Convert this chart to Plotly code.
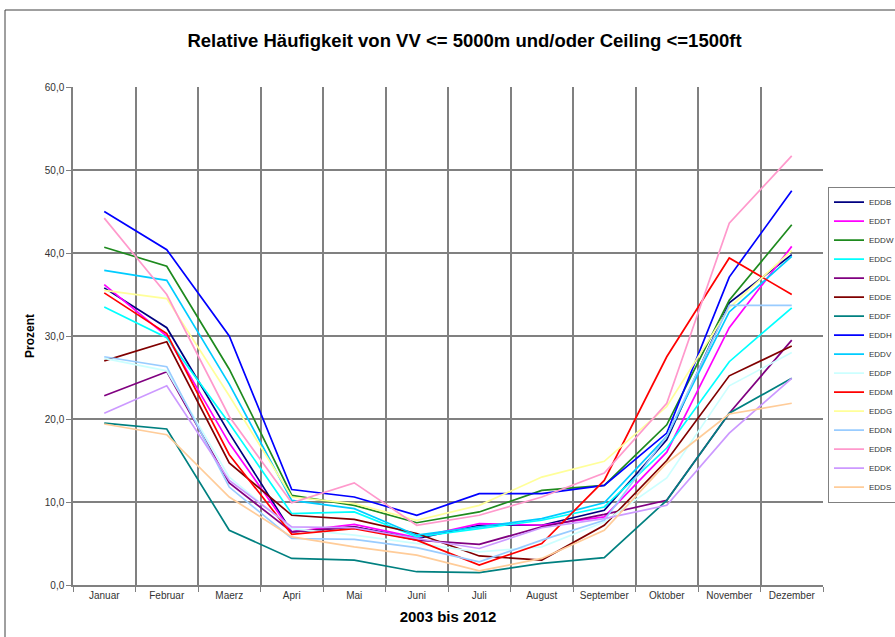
import plotly.graph_objects as go

months = ["Januar", "Februar", "Maerz", "Apri", "Mai", "Juni", "Juli", "August",
          "September", "Oktober", "November", "Dezember"]

EDDB = [35.8, 31.0, 18.3, 6.4, 7.0, 5.6, 7.2, 7.2, 9.0, 17.5, 34.0, 39.8]
EDDT = [36.2, 30.0, 17.1, 6.4, 7.3, 5.7, 7.4, 7.2, 8.2, 16.0, 31.0, 40.8]
EDDW = [40.7, 38.4, 26.0, 10.8, 9.6, 7.5, 8.8, 11.4, 12.0, 19.3, 34.3, 43.4]
EDDC = [33.5, 29.8, 19.5, 8.6, 8.8, 5.8, 6.8, 7.8, 9.4, 16.5, 26.9, 33.4]
EDDL = [22.8, 25.7, 12.3, 6.4, 7.0, 5.4, 4.9, 7.0, 8.5, 10.2, 20.7, 29.5]
EDDE = [27.0, 29.3, 14.7, 8.4, 7.9, 6.2, 3.5, 3.0, 7.2, 15.0, 25.2, 28.8]
EDDF = [19.5, 18.8, 6.6, 3.2, 3.0, 1.6, 1.5, 2.6, 3.3, 10.2, 20.7, 24.9]
EDDH = [45.0, 40.4, 30.0, 11.5, 10.6, 8.4, 11.0, 11.0, 12.0, 18.3, 37.1, 47.5]
EDDV = [37.9, 36.7, 24.2, 10.2, 9.2, 6.0, 7.0, 8.0, 9.9, 17.9, 32.9, 39.6]
EDDP = [27.3, 25.8, 13.0, 6.8, 6.0, 5.0, 4.0, 4.6, 7.6, 12.9, 24.0, 28.0]
EDDM = [35.2, 30.3, 15.7, 6.1, 6.8, 5.4, 2.4, 5.0, 12.6, 27.5, 39.4, 35.0]
EDDG = [35.5, 34.5, 22.8, 10.6, 9.8, 7.8, 9.6, 13.0, 14.9, 21.5, 33.4, 40.3]
EDDN = [27.5, 26.3, 11.8, 5.6, 5.5, 4.5, 2.8, 5.4, 7.8, 17.9, 33.7, 33.7]
EDDR = [44.2, 35.0, 20.3, 9.9, 12.3, 7.2, 8.4, 10.6, 13.5, 21.9, 43.6, 51.7]
EDDK = [20.7, 24.0, 12.6, 7.0, 6.9, 5.6, 4.4, 6.9, 8.0, 9.6, 18.3, 24.9]
EDDS = [19.4, 18.1, 10.6, 5.8, 4.6, 3.6, 1.7, 3.2, 6.6, 14.7, 20.6, 21.9]

series = [
    ("EDDB", EDDB, "#000080"),
    ("EDDT", EDDT, "#FF00FF"),
    ("EDDW", EDDW, "#1E8A1E"),
    ("EDDC", EDDC, "#00FFFF"),
    ("EDDL", EDDL, "#800080"),
    ("EDDE", EDDE, "#800000"),
    ("EDDF", EDDF, "#008080"),
    ("EDDH", EDDH, "#0000FF"),
    ("EDDV", EDDV, "#00CCFF"),
    ("EDDP", EDDP, "#CCFFFF"),
    ("EDDM", EDDM, "#FF0000"),
    ("EDDG", EDDG, "#FFFF99"),
    ("EDDN", EDDN, "#99CCFF"),
    ("EDDR", EDDR, "#FF99CC"),
    ("EDDK", EDDK, "#CC99FF"),
    ("EDDS", EDDS, "#FFCC99"),
]

fig = go.Figure()
for name, vals, col in series:
    fig.add_trace(go.Scatter(x=months, y=vals, name=name, mode="lines",
                             line=dict(color=col, width=1.7)))

font = "Liberation Sans, Arial, sans-serif"
fig.update_layout(
    width=895, height=637,
    margin=dict(l=73, r=72, t=87, b=52, autoexpand=False),
    paper_bgcolor="white", plot_bgcolor="white",
    separators=",.",
    font=dict(family=font, size=9, color="#000000"),
    title=dict(text="<b>Relative Häufigkeit von VV <= 5000m und/oder Ceiling <=1500ft</b>",
               x=0.519, xanchor="center", y=0.937, yanchor="middle",
               font=dict(size=18.5, family=font, color="#000000")),
    xaxis=dict(type="category", tickson="boundaries", showgrid=True, automargin=False,
               gridcolor="#808080", gridwidth=1.5, ticks="outside", ticklen=5,
               tickcolor="#808080", showline=True, linecolor="#808080", linewidth=1.5,
               tickfont=dict(size=10, color="#333333"),
               title=dict(text="<b>2003 bis 2012</b>", font=dict(size=15), standoff=12),
               range=[-0.5, 11.5]),
    yaxis=dict(range=[0, 60], dtick=10, tickformat=".1f", showgrid=True, automargin=False,
               gridcolor="#808080", gridwidth=1.5, ticks="outside", ticklen=5,
               tickcolor="#808080", showline=True, linecolor="#808080", linewidth=1.5,
               zeroline=False,
               tickfont=dict(size=10, color="#333333"),
               title=dict(text="<b>Prozent</b>", font=dict(size=12), standoff=8)),
    legend=dict(x=(828 - 73) / 750, xanchor="left", y=0.80, yanchor="top",
                bordercolor="#808080", borderwidth=1, bgcolor="white",
                font=dict(size=8, color="#333333"), tracegroupgap=0,
                itemwidth=30),
    showlegend=True,
)

fig.add_shape(type="rect", xref="paper", yref="paper",
              x0=(5 - 73) / 750, x1=(905 - 73) / 750,
              y0=(585 - 645) / 498, y1=(585 - 10) / 498,
              line=dict(color="#404040", width=1), fillcolor="rgba(0,0,0,0)",
              layer="below")

fig.write_html("out.html", config={"displayModeBar": False},
               post_script="document.body.style.margin='0';")
